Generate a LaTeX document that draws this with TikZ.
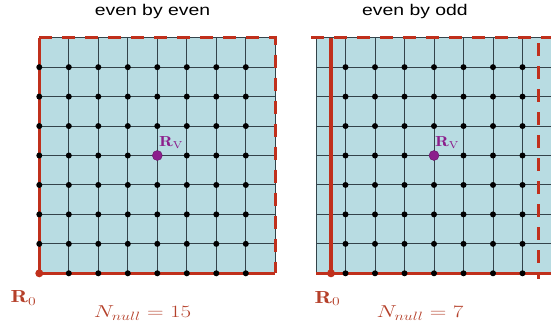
\documentclass[tikz,border=0pt]{standalone}
\usepackage{fontspec}
\usepackage{graphicx}
\newfontfamily\titlefont{Liberation Sans}
\definecolor{cellfill}{HTML}{B8DCE2}
\definecolor{gridcol}{HTML}{33434A}
\definecolor{nullred}{HTML}{C0301C}
\definecolor{labelred}{HTML}{B5402A}
\definecolor{vpurple}{HTML}{8C1E8C}
\tikzset{
  gridline/.style={draw=gridcol, line width=1pt},
  nullsolid/.style={draw=nullred, line width=3.3pt},
  nulldash/.style={draw=nullred, line width=3.3pt, dash pattern=on 13pt off 10pt},
  site/.style={fill=black},
  titletext/.style={inner sep=0pt, anchor=base, font=\titlefont\fontsize{15.5}{18}\selectfont},
  redlabel/.style={inner sep=0pt, anchor=base, text=labelred, font=\fontsize{17.5}{20}\selectfont},
  vlabel/.style={inner sep=0pt, anchor=base west, text=vpurple, font=\fontsize{14.5}{17}\selectfont},
}
\begin{document}
\begin{tikzpicture}[x=1pt,y=-1pt]
\useasboundingbox (0,0) rectangle (551,332);

% ---------- left panel: even by even ----------
\coordinate (LTL) at (39.3,37.7);
\coordinate (LBL) at (39.3,273.3);
\coordinate (LTR) at (275.3,37.7);
\coordinate (LBR) at (275.3,273.3);
\fill[cellfill] (LTL) rectangle (LBR);
\foreach \i in {0,...,8} {
  \draw[gridline] (39.3+\i*29.5,37.7) -- (39.3+\i*29.5,273.3);
  \draw[gridline] (39.3,37.7+\i*29.45) -- (275.3,37.7+\i*29.45);
}
\draw[nullsolid] (LTL) -- (LBL) -- (LBR);
\draw[nulldash] (LTL) -- (LTR) -- (LBR);
\foreach \i in {0,...,7} \foreach \j in {1,...,8}
  \fill[site] (39.3+\i*29.5,37.7+\j*29.45) circle (3);
\fill[nullred] (LBL) circle (4);
\coordinate (LV) at (157.3,155.5);
\fill[vpurple, draw=vpurple!70!black, line width=0.4pt] (LV) circle (5);
\node[vlabel] (LVlab) at (159,146.5) {\scalebox{1.25}[1]{$\mathbf{R}_{\mathrm{V}}$}};

\node[titletext] (t1) at (152.5,15.7) {\scalebox{1.25}[1]{even by even}};
\node[redlabel] (LR0) at (23.5,302.7) {\scalebox{1.3}[1]{$\mathbf{R}_0$}};
\node[redlabel, font=\fontsize{17}{20}\selectfont] (LN) at (142.5,317.7) {\scalebox{1.33}[1]{$N_{null}=15$}};

% ---------- right panel: even by odd ----------
\coordinate (RTL) at (316,37.7);
\coordinate (RBR) at (551,273.3);
\fill[cellfill] (RTL) rectangle (RBR);
\foreach \i in {0,...,7}
  \draw[gridline] (316+\i*29.5,37.7) -- (316+\i*29.5,273.3);
\foreach \j in {0,...,8}
  \draw[gridline] (316,37.7+\j*29.45) -- (551,37.7+\j*29.45);
\coordinate (RS1) at (331,37.7);
\coordinate (RS2) at (331,273.3);
\coordinate (RB1) at (316,273.3);
\coordinate (RB2) at (551,273.3);
\coordinate (RD1) at (311,37.7);
\coordinate (RD2) at (551,37.7);
\coordinate (RV1) at (538.5,43);
\coordinate (RV2) at (538.5,279);
\draw[nullsolid] (RS1) -- (RS2);
\draw[nullsolid] (RB1) -- (RB2);
\draw[nulldash] (RD1) -- (RD2);
\draw[nulldash] (RV1) -- (RV2);
\foreach \i in {1,...,7} \foreach \j in {1,...,8}
  \fill[site] (316+\i*29.5,37.7+\j*29.45) circle (3);
\fill[nullred] (RS2) circle (4);
\coordinate (RV) at (434,155.5);
\fill[vpurple, draw=vpurple!70!black, line width=0.4pt] (RV) circle (5);
\node[vlabel] (RVlab) at (435,146.5) {\scalebox{1.25}[1]{$\mathbf{R}_{\mathrm{V}}$}};

\node[titletext] (t2) at (415,15.7) {\scalebox{1.25}[1]{even by odd}};
\node[redlabel] (RR0) at (327.5,303) {\scalebox{1.3}[1]{$\mathbf{R}_0$}};
\node[redlabel, font=\fontsize{17}{20}\selectfont] (RN) at (420,317.5) {\scalebox{1.33}[1]{$N_{null}=7$}};
\end{tikzpicture}
\end{document}
